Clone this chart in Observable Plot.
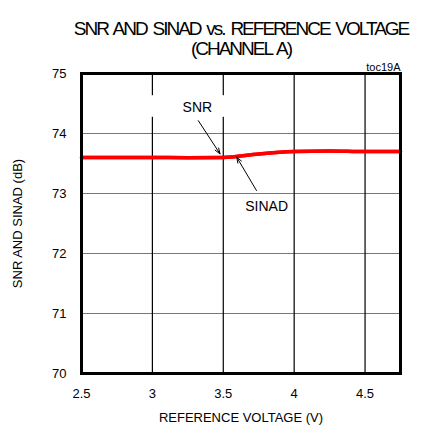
<!DOCTYPE html>
<html><head><meta charset="utf-8">
<script src="https://cdn.jsdelivr.net/npm/d3@7"></script>
<script src="https://cdn.jsdelivr.net/npm/@observablehq/plot@0.6"></script>
<style>
body{margin:0;background:#fff;}
svg{font-family:"Liberation Sans",Arial,sans-serif;}
</style></head><body>
<div id="chart"></div>
<script>
const refVoltage = [2.5, 2.75, 3.0, 3.25, 3.5, 3.75, 4.0, 4.25, 4.5, 4.75];
const snr   = [73.6, 73.6, 73.6, 73.595, 73.6, 73.66, 73.70, 73.71, 73.70, 73.70];
const sinad = [73.6, 73.6, 73.6, 73.595, 73.6, 73.66, 73.70, 73.71, 73.70, 73.70];
const xTicks = [2.5, 3, 3.5, 4, 4.5];
const yTicks = [70, 71, 72, 73, 74, 75];
const titleLines = ["SNR AND SINAD vs. REFERENCE VOLTAGE", "(CHANNEL A)"];
const annotations = [
  {label: "SNR",   tx: 3.317, ty: 74.435, x1: 3.324, y1: 74.214, x2: 3.477, y2: 73.661},
  {label: "SINAD", tx: 3.806, ty: 72.79,  x1: 3.734, y1: 73.05,  x2: 3.595, y2: 73.605}
];
const labelBox = [{x1: 2.98, x2: 3.52, y1: 74.27, y2: 74.63}];

const data = refVoltage.map((v, i) => ({v, snr: snr[i], sinad: sinad[i]}));

const chart = Plot.plot({
  width: 427, height: 429,
  marginTop: 73, marginLeft: 81, marginRight: 27, marginBottom: 56,
  style: {fontFamily: '"Liberation Sans", Arial, sans-serif', background: "#fff"},
  x: {domain: [2.5, 4.75]},
  y: {domain: [70, 75]},
  marks: [
    Plot.ruleY(yTicks.slice(1, -1), {stroke: "#777", strokeWidth: 1.2}),
    Plot.ruleX(xTicks.slice(1), {stroke: "#000", strokeWidth: 1.2}),
    Plot.rect(labelBox, {x1: "x1", x2: "x2", y1: "y1", y2: "y2", fill: "#fff"}),
    Plot.line(data, {x: "v", y: "sinad", stroke: "#ff0000", strokeWidth: 3.5, curve: "monotone-x"}),
    Plot.line(data, {x: "v", y: "snr", stroke: "#ff0000", strokeWidth: 3.5, curve: "monotone-x"}),
    Plot.arrow(annotations, {x1: "x1", y1: "y1", x2: "x2", y2: "y2", stroke: "#000", strokeWidth: 1, headLength: 9, headAngle: 40}),
    Plot.text(annotations, {x: "tx", y: "ty", text: "label", fontSize: 14, fill: "#000"}),
    Plot.frame({stroke: "#000", strokeWidth: 3}),
    Plot.axisX(xTicks, {tickSize: 0, tickPadding: 15, fontSize: 13, fill: "#000", tickFormat: d => String(d), label: "REFERENCE VOLTAGE (V)", labelAnchor: "center", labelArrow: "none", labelOffset: 48}),
    Plot.axisY(yTicks, {tickSize: 0, tickPadding: 15, fontSize: 13, fill: "#000", tickFormat: d => String(d), label: "SNR AND SINAD (dB)", labelAnchor: "center", labelArrow: "none", labelOffset: 69}),
    Plot.text([titleLines[0]], {frameAnchor: "top", dy: -52, text: d => d, fontSize: 19, fill: "#000"}),
    Plot.text([titleLines[1]], {frameAnchor: "top", dy: -32, text: d => d, fontSize: 19, fill: "#000"}),
    Plot.text(["toc19A"], {frameAnchor: "top-right", dy: -10, textAnchor: "end", text: d => d, fontSize: 11, fill: "#000"})
  ]
});
d3.select(chart).selectAll("text").filter(function() {
  return titleLines.includes(this.textContent);
}).style("letter-spacing", "-2px").style("word-spacing", "2.5px");
document.getElementById("chart").appendChild(chart);
</script>
</body></html>
